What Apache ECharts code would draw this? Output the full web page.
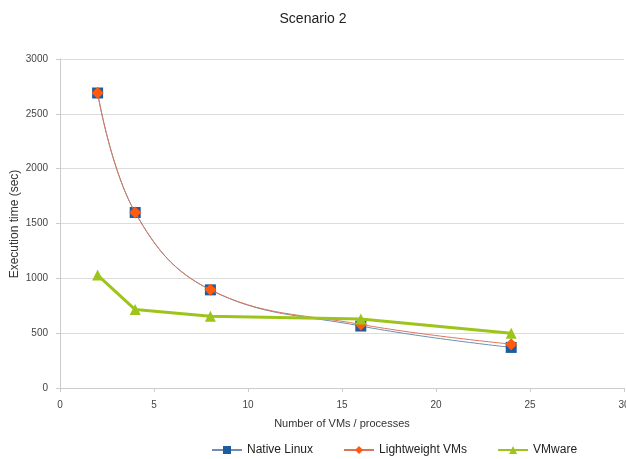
<!DOCTYPE html>
<html><head><meta charset="utf-8">
<script src="https://cdn.jsdelivr.net/npm/echarts@6/dist/echarts.min.js"></script>
<style>html,body{margin:0;padding:0;background:#fff}#c{width:626px;height:459px}</style>
</head><body><div id="c"></div>
<script>
const xValues = [2, 4, 8, 16, 24];
const nativeLinux = [2690, 1600, 895, 565, 370];
const lightweightVMs = [2690, 1600, 895, 580, 400];
const vmware = [1030, 715, 655, 630, 500];
const seriesNames = ['Native Linux', 'Lightweight VMs', 'VMware'];
const yAxisTitle = 'Execution time (sec)';

const pair = arr => xValues.map((x, i) => [x, arr[i]]);
const chart = echarts.init(document.getElementById('c'));
chart.setOption({
  animation: false,
  title: { text: 'Scenario 2', left: 'center', top: 7,
    textStyle: { fontFamily: 'Liberation Sans', fontSize: 14, fontWeight: 'normal', color: '#222' } },
  grid: { left: 60, right: 2, top: 59, bottom: 71, containLabel: false, outerBoundsMode: 'none' },
  graphic: [{
    type: 'text', x: 15, y: 224, rotation: Math.PI / 2,
    style: { text: yAxisTitle, fontFamily: 'Liberation Sans', fontSize: 12, fill: '#333',
      align: 'center', verticalAlign: 'middle' }
  }],
  legend: {
    data: seriesNames, bottom: -2, left: 206, itemGap: 30, itemWidth: 30, itemHeight: 10,
    textStyle: { fontFamily: 'Liberation Sans', fontSize: 12, color: '#222' }
  },
  xAxis: {
    type: 'value', min: 0, max: 30, interval: 5,
    name: 'Number of VMs / processes', nameLocation: 'middle', nameGap: 30,
    nameTextStyle: { fontFamily: 'Liberation Sans', fontSize: 11, color: '#333' },
    axisLine: { lineStyle: { color: '#ccc' } },
    axisTick: { show: true, length: 4, lineStyle: { color: '#ccc' } },
    axisLabel: { fontFamily: 'Liberation Sans', fontSize: 10, color: '#444', margin: 12,
      formatter: v => String(v) },
    splitLine: { show: false }
  },
  yAxis: {
    type: 'value', min: 0, max: 3000, interval: 500,
    axisLine: { show: true, lineStyle: { color: '#ccc' } },
    axisTick: { show: true, length: 4, lineStyle: { color: '#ccc' } },
    axisLabel: { fontFamily: 'Liberation Sans', fontSize: 10, color: '#444', margin: 12,
      formatter: v => String(v) },
    splitLine: { lineStyle: { color: '#dcdcdc' } }
  },
  series: [
    { name: seriesNames[0], type: 'line', data: pair(nativeLinux), smooth: 0.4,
      symbol: 'rect', symbolSize: 11,
      lineStyle: { color: '#6f8fb0', width: 1 }, itemStyle: { color: '#1f5c9c' }, z: 2 },
    { name: seriesNames[1], type: 'line', data: pair(lightweightVMs), smooth: 0.4,
      symbol: 'diamond', symbolSize: 12,
      lineStyle: { color: '#d9765a', width: 1 }, itemStyle: { color: '#ff5a0e' }, z: 3 },
    { name: seriesNames[2], type: 'line', data: pair(vmware), smooth: false,
      symbol: 'triangle', symbolSize: 11,
      lineStyle: { color: '#9dc41b', width: 3 }, itemStyle: { color: '#9dc41b' }, z: 4 }
  ]
});
</script></body></html>
